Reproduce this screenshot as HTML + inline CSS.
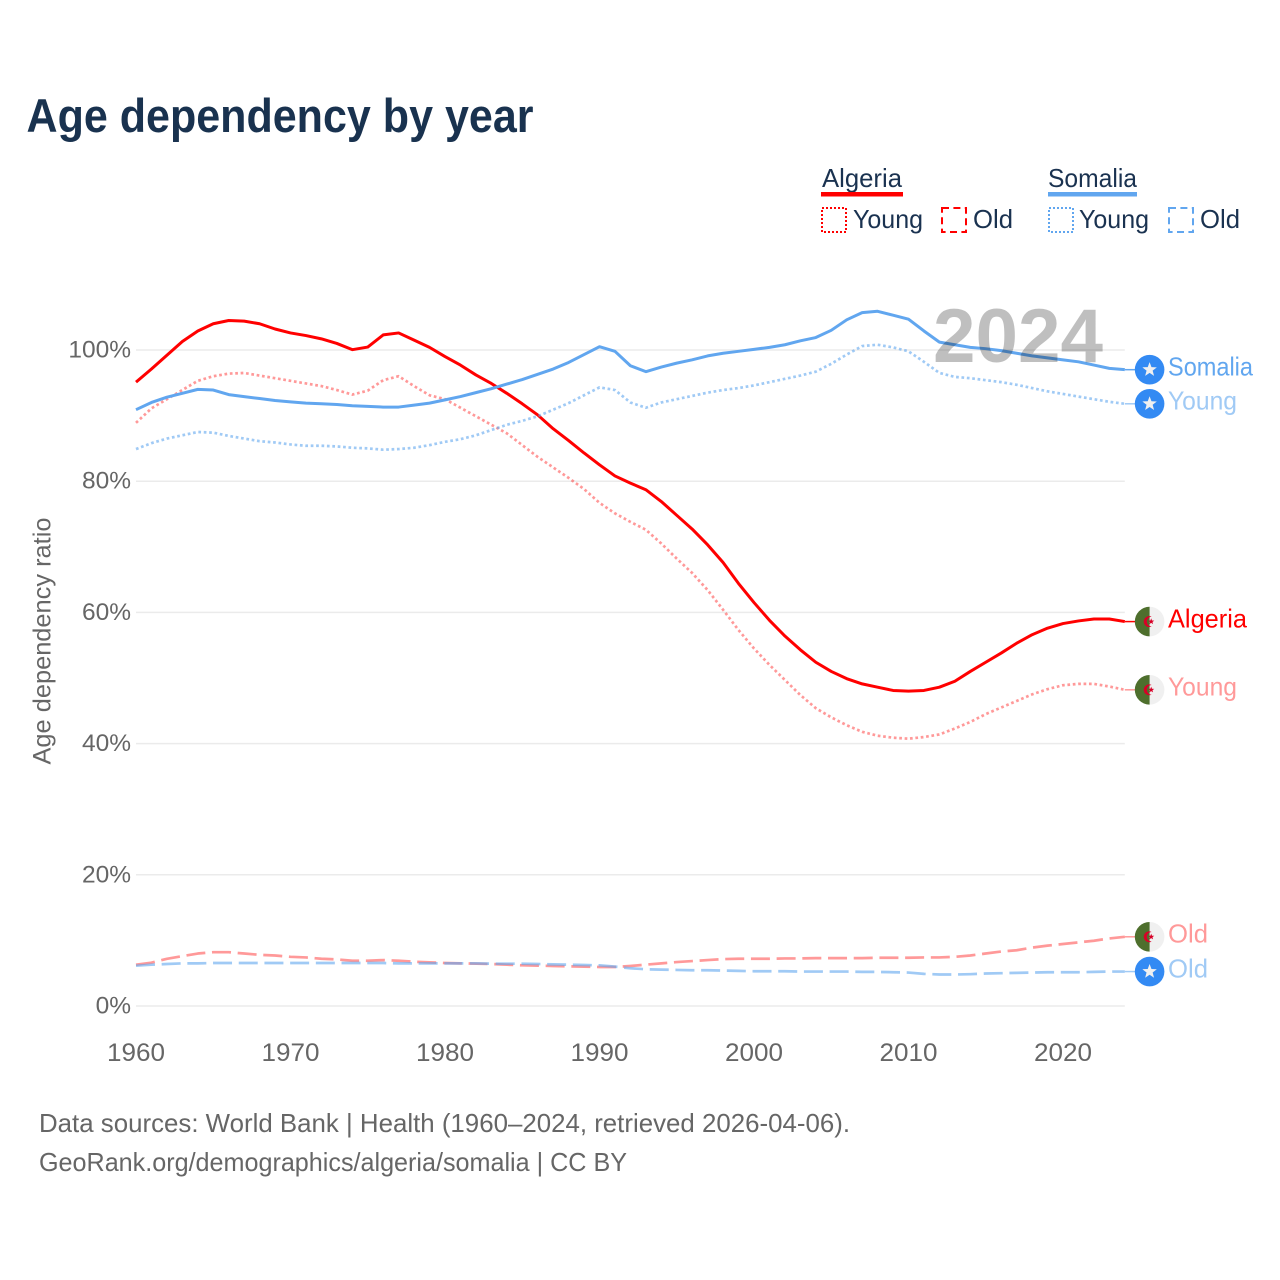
<!DOCTYPE html>
<html lang="en">
<head>
<meta charset="utf-8">
<title>Age dependency by year</title>
<style>
html,body{margin:0;padding:0;background:#fff;}
svg{display:block;}
text{font-family:"Liberation Sans",Arial,sans-serif;}
</style>
</head>
<body>
<svg id="chart" xmlns="http://www.w3.org/2000/svg" width="1280" height="1280" viewBox="0 0 1280 1280">
  <rect width="1280" height="1280" fill="#fff"/>
  <text x="26.5" y="132" font-size="47" font-weight="700" fill="#19324f" textLength="507" lengthAdjust="spacingAndGlyphs">Age dependency by year</text>

  <g font-size="26" fill="#1a3250">
    <text x="822" y="187" textLength="80" lengthAdjust="spacingAndGlyphs">Algeria</text>
    <rect x="821" y="192" width="82" height="4.5" fill="#ff0000"/>
    <rect x="822" y="208" width="24" height="24" fill="none" stroke="#ff0000" stroke-width="2" stroke-dasharray="2 2"/>
    <text x="853" y="228" textLength="70" lengthAdjust="spacingAndGlyphs">Young</text>
    <rect x="942" y="208" width="24" height="24" fill="none" stroke="#ff0000" stroke-width="2" stroke-dasharray="7 4.4"/>
    <text x="973" y="228" textLength="40" lengthAdjust="spacingAndGlyphs">Old</text>

    <text x="1048" y="187" textLength="89" lengthAdjust="spacingAndGlyphs">Somalia</text>
    <rect x="1048" y="192" width="89" height="4.5" fill="#61a6ef"/>
    <rect x="1049" y="208" width="24" height="24" fill="none" stroke="#61a6ef" stroke-width="2" stroke-dasharray="2 2"/>
    <text x="1079" y="228" textLength="70" lengthAdjust="spacingAndGlyphs">Young</text>
    <rect x="1169" y="208" width="24" height="24" fill="none" stroke="#61a6ef" stroke-width="2" stroke-dasharray="7 4.4"/>
    <text x="1200" y="228" textLength="40" lengthAdjust="spacingAndGlyphs">Old</text>
  </g>

  <g id="grid"></g>
  <g id="yticks" font-size="24.5" fill="#666"></g>
  <g id="xticks" font-size="25" fill="#666"></g>
  <text transform="translate(50.5,641) rotate(-90)" text-anchor="middle" font-size="25" fill="#666" textLength="247" lengthAdjust="spacingAndGlyphs">Age dependency ratio</text>

  <g id="series"></g>
  <text x="933" y="362" font-size="76" font-weight="700" fill="#000" fill-opacity="0.25" textLength="170" lengthAdjust="spacingAndGlyphs">2024</text>
  <g id="endmarks"></g>

  <text x="39" y="1132" font-size="26" fill="#666" textLength="811" lengthAdjust="spacingAndGlyphs">Data sources: World Bank | Health (1960–2024, retrieved 2026-04-06).</text>
  <text x="39" y="1171" font-size="26" fill="#666" textLength="588" lengthAdjust="spacingAndGlyphs">GeoRank.org/demographics/algeria/somalia | CC BY</text>
</svg>
<script>
const years = [1960,1961,1962,1963,1964,1965,1966,1967,1968,1969,
1970,1971,1972,1973,1974,1975,1976,1977,1978,1979,
1980,1981,1982,1983,1984,1985,1986,1987,1988,1989,
1990,1991,1992,1993,1994,1995,1996,1997,1998,1999,
2000,2001,2002,2003,2004,2005,2006,2007,2008,2009,
2010,2011,2012,2013,2014,2015,2016,2017,2018,2019,
2020,2021,2022,2023,2024];
const algeriaTotal = [95.1,97.1,99.2,101.3,102.9,104,104.5,104.4,104,103.2,
102.6,102.2,101.7,101,100.05,100.45,102.3,102.6,101.5,100.4,
99,97.7,96.2,94.9,93.4,91.8,90.1,88,86.2,84.3,
82.5,80.8,79.7,78.7,76.9,74.8,72.7,70.3,67.6,64.4,
61.5,58.8,56.4,54.3,52.4,51,49.9,49.1,48.6,48.1,
48,48.1,48.6,49.5,51,52.4,53.8,55.3,56.6,57.6,
58.3,58.7,59,59,58.6];
const algeriaYoung = [88.9,91.1,92.5,93.9,95.3,96,96.4,96.5,96.1,95.7,
95.3,94.9,94.5,93.9,93.2,93.8,95.4,96,94.5,93.1,
92.5,91.2,89.9,88.6,87.3,85.5,83.7,82.1,80.5,78.8,
76.7,75.1,73.8,72.6,70.5,68.2,66,63.4,60.4,57.3,
54.5,52,49.7,47.4,45.4,44,42.8,41.8,41.2,40.9,
40.75,41,41.4,42.3,43.3,44.5,45.5,46.5,47.5,48.3,
48.9,49.1,49.1,48.7,48.2];
const algeriaOld = [6.3,6.6,7.2,7.6,8,8.2,8.2,8,7.8,7.7,
7.5,7.4,7.2,7.1,6.9,6.9,7,6.9,6.75,6.65,
6.55,6.5,6.45,6.4,6.3,6.2,6.15,6.1,6.05,6,
5.95,5.95,6.1,6.3,6.5,6.7,6.85,7,7.15,7.2,
7.2,7.2,7.25,7.25,7.3,7.3,7.3,7.3,7.35,7.35,
7.35,7.4,7.4,7.5,7.7,8,8.3,8.5,8.9,9.2,
9.45,9.7,9.95,10.3,10.55];
const somaliaTotal = [90.9,92,92.8,93.4,94,93.9,93.2,92.9,92.6,92.3,
92.1,91.9,91.8,91.7,91.5,91.4,91.3,91.3,91.6,91.9,
92.4,92.9,93.5,94.1,94.8,95.5,96.3,97.1,98.1,99.3,
100.5,99.8,97.6,96.7,97.4,98,98.5,99.1,99.5,99.8,
100.1,100.4,100.8,101.4,101.9,103,104.6,105.7,105.9,105.3,
104.7,102.9,101.2,100.8,100.4,100.2,99.9,99.5,99.1,98.8,
98.5,98.2,97.7,97.2,97];
const somaliaYoung = [84.9,85.8,86.5,87,87.5,87.4,86.9,86.5,86.1,85.9,
85.6,85.4,85.4,85.3,85.1,85,84.8,84.9,85.1,85.5,
86,86.4,87,87.8,88.6,89.2,89.9,90.9,91.9,93.1,
94.3,93.9,92,91.2,92,92.5,93,93.5,93.9,94.2,
94.6,95.1,95.6,96.1,96.7,97.9,99.3,100.6,100.8,100.4,
99.8,98.2,96.5,95.9,95.7,95.4,95.1,94.7,94.2,93.7,
93.3,92.9,92.5,92.1,91.8];
const somaliaOld = [6.15,6.3,6.4,6.5,6.5,6.55,6.55,6.55,6.55,6.55,
6.55,6.55,6.55,6.55,6.55,6.55,6.55,6.5,6.5,6.5,
6.5,6.5,6.5,6.45,6.45,6.45,6.4,6.35,6.3,6.25,
6.2,6,5.75,5.6,5.55,5.5,5.45,5.45,5.4,5.35,
5.3,5.3,5.3,5.25,5.25,5.25,5.25,5.2,5.2,5.15,
5.1,4.9,4.8,4.8,4.85,4.95,5,5.05,5.1,5.15,
5.15,5.15,5.2,5.25,5.25];
const yTickValues = [0,20,40,60,80,100];
const yTickLabels = ["0%","20%","40%","60%","80%","100%"];
const xTickValues = [1960,1970,1980,1990,2000,2010,2020];
const xTickLabels = ["1960","1970","1980","1990","2000","2010","2020"];

const NS = "http://www.w3.org/2000/svg";
const xScale = function (year) { return 136 + (year - 1960) * 15.45; };
const yScale = function (value) { return 1006 - value * 6.56; };

function make(tag, attrs, parent) {
  const el = document.createElementNS(NS, tag);
  Object.keys(attrs).forEach(function (k) { el.setAttribute(k, attrs[k]); });
  parent.appendChild(el);
  return el;
}

const gridGroup = document.getElementById("grid");
const yTickGroup = document.getElementById("yticks");
const xTickGroup = document.getElementById("xticks");
const seriesGroup = document.getElementById("series");
const endGroup = document.getElementById("endmarks");

yTickValues.forEach(function (v, i) {
  const line = make("line", {x1: 136, x2: 1124.8, y1: yScale(v), y2: yScale(v), stroke: "#ebebeb", "stroke-width": 1.5}, gridGroup);
  
  
  const label = make("text", {x: 131, y: yScale(v) + 7.5, "text-anchor": "end"}, yTickGroup);
  label.textContent = yTickLabels[i];
  
  
});

xTickValues.forEach(function (v, i) {
  const label = make("text", {x: xScale(v) - 29, y: 1061, textLength: 58, lengthAdjust: "spacingAndGlyphs"}, xTickGroup);
  label.textContent = xTickLabels[i];
  
  
});

const RED = "#ff0000", BLUE = "#61a6ef";
const seriesList = [
  {id: "algeria-old", values: algeriaOld, color: RED, opacity: 0.4, dash: "19 6.7", label: "Old", width: 40, flag: "dz"},
  {id: "algeria-young", values: algeriaYoung, color: RED, opacity: 0.4, dash: "2.7 2.7", label: "Young", width: 69, flag: "dz"},
  {id: "algeria-total", values: algeriaTotal, color: RED, opacity: 1, dash: "", label: "Algeria", width: 79, flag: "dz"},
  {id: "somalia-old", values: somaliaOld, color: BLUE, opacity: 0.6, dash: "19 6.7", label: "Old", width: 40, flag: "so"},
  {id: "somalia-young", values: somaliaYoung, color: BLUE, opacity: 0.6, dash: "2.7 2.7", label: "Young", width: 69, flag: "so"},
  {id: "somalia-total", values: somaliaTotal, color: BLUE, opacity: 1, dash: "", label: "Somalia", width: 85, flag: "so"}
];

function starPoints(cx, cy, r) {
  const pts = [];
  for (let i = 0; i < 10; i++) {
    const rad = i % 2 === 0 ? r : r * 0.42;
    const a = -Math.PI / 2 + i * Math.PI / 5;
    pts.push((cx + rad * Math.cos(a)).toFixed(2) + "," + (cy + rad * Math.sin(a)).toFixed(2));
  }
  return pts.join(" ");
}

function drawFlag(kind, cx, cy, id) {
  const g = make("g", {}, endGroup);
  
  
  if (kind === "so") {
    const disc = make("circle", {cx: cx, cy: cy, r: 14.8, fill: "#338af3"}, g);
    
    
    const star = make("polygon", {points: starPoints(cx, cy, 7.6), fill: "#f0f0f0"}, g);
    
    
  } else {
    const r = 14.8;
    const right = make("path", {d: "M" + cx + " " + (cy - r) + "A" + r + " " + r + " 0 0 1 " + cx + " " + (cy + r) + "Z", fill: "#f0f0f0"}, g);
    
    
    const left = make("path", {d: "M" + cx + " " + (cy - r) + "A" + r + " " + r + " 0 0 0 " + cx + " " + (cy + r) + "Z", fill: "#4e6f2d"}, g);
    
    
    const crescent = make("path", {d: "M" + (cx + 2) + " " + (cy - 4.8) + "A5.4 5.4 0 1 0 " + (cx + 2) + " " + (cy + 4.8) + "A4.2 4.2 0 1 1 " + (cx + 2) + " " + (cy - 4.8) + "Z", fill: "#d80027"}, g);
    
    
    const star = make("polygon", {points: starPoints(cx + 1.6, cy, 3.2), fill: "#d80027"}, g);
    
    
  }
}

seriesList.forEach(function (s) {
  const pts = s.values.map(function (v, i) {
    return xScale(years[i]).toFixed(2) + "," + yScale(v).toFixed(2);
  });
  const path = make("polyline", {
    points: pts.join(" "), fill: "none", stroke: s.color, "stroke-opacity": s.opacity,
    "stroke-width": s.dash ? 2.7 : 3, "stroke-linejoin": "round"
  }, seriesGroup);
  if (s.dash) path.setAttribute("stroke-dasharray", s.dash);
  
  

  const last = s.values[s.values.length - 1];
  const endY = yScale(last);
  const lead = make("line", {x1: xScale(years[years.length - 1]), x2: 1136, y1: endY, y2: endY, stroke: s.color, "stroke-opacity": s.opacity, "stroke-width": 1.5}, seriesGroup);
  
  

  drawFlag(s.flag, 1149.6, endY, s.id);

  const label = make("text", {x: 1168, y: endY + 5.8, "font-size": 26, fill: s.color, "fill-opacity": s.opacity, textLength: s.width, lengthAdjust: "spacingAndGlyphs"}, endGroup);
  label.textContent = s.label;
  
  
});
</script>
</body>
</html>
